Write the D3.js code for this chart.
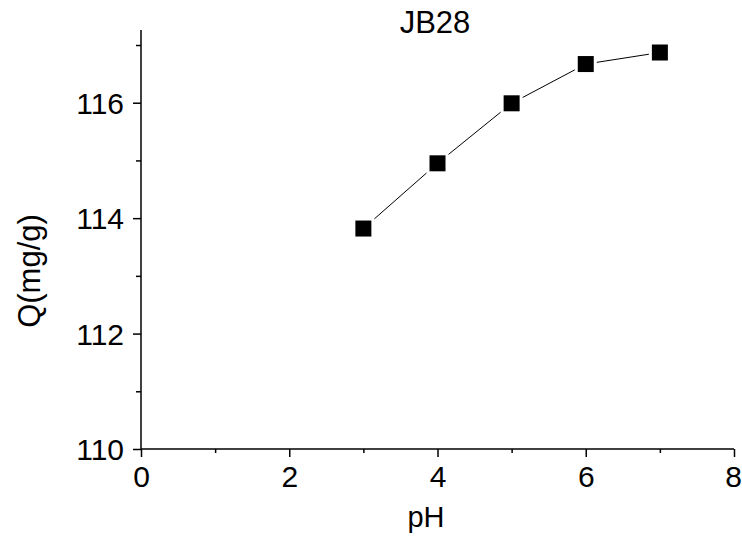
<!DOCTYPE html>
<html>
<head>
<meta charset="utf-8">
<script src="https://d3js.org/d3.v7.min.js"></script>
<style>
  body { margin: 0; background: #fff; }
  text { font-family: Arial, "Liberation Sans", sans-serif; fill: #000; }
</style>
</head>
<body>
<svg width="742" height="537"></svg>
<script>
const width = 742, height = 537;
const svg = d3.select("svg");

// data
const phValues = [3, 4, 5, 6, 7];
const qValues = [113.82, 114.95, 115.99, 116.67, 116.87];
const xTicks = [0, 2, 4, 6, 8];
const yTicks = [110, 112, 114, 116];

const margin = { left: 141, right: 8, top: 30, bottom: 88 };

const x = d3.scaleLinear().domain([0, 8]).range([margin.left, width - margin.right]);
const y = d3.scaleLinear().domain([110, 117.26]).range([height - margin.bottom, margin.top]);

// x axis with minor ticks
const xAxis = svg.append("g").attr("transform", `translate(0,${y(110)})`);
xAxis.call(d3.axisBottom(x).tickValues(d3.range(0, 8.01, 1)).tickSize(4).tickFormat(""));
xAxis.call(g => g.selectAll(".tick").filter(d => d % 2 === 0).select("line").attr("y2", 8));
xAxis.call(g => g.select(".domain").attr("d", `M${x(0)},0H${x(8)}`));
xAxis.selectAll(".tick")
  .filter(d => xTicks.includes(d))
  .append("text")
  .attr("y", 38)
  .attr("dx", d => d === 8 ? -1 : 0)
  .attr("text-anchor", "middle")
  .style("font-size", "30px")
  .text(d => d);

// y axis with minor ticks
const yAxis = svg.append("g").attr("transform", `translate(${x(0)},0)`);
yAxis.call(d3.axisLeft(y).tickValues(d3.range(110, 117.01, 1)).tickSize(5).tickFormat(""));
yAxis.call(g => g.selectAll(".tick").filter(d => d % 2 === 0).select("line").attr("x2", -8));
yAxis.call(g => g.select(".domain").attr("d", `M0,${y(110)}V${y(117.26)}`));
yAxis.selectAll(".tick")
  .filter(d => yTicks.includes(d))
  .append("text")
  .attr("x", -17)
  .attr("dy", "0.36em")
  .attr("text-anchor", "end")
  .style("font-size", "30px")
  .text(d => d);

svg.selectAll(".domain, .tick line").attr("stroke", "#000").attr("stroke-width", 1.5);

// titles
svg.append("text")
  .attr("x", 435).attr("y", 33)
  .attr("text-anchor", "middle")
  .style("font-size", "31px")
  .text("JB28");

svg.append("text")
  .attr("x", 426).attr("y", 527)
  .attr("text-anchor", "middle")
  .style("font-size", "29px")
  .text("pH");

svg.append("text")
  .attr("transform", "translate(40,271) rotate(-90)")
  .attr("text-anchor", "middle")
  .style("font-size", "31px")
  .text("Q(mg/g)");

const pts = phValues.map((p, i) => [p, qValues[i]]);

// connecting line
svg.append("path")
  .datum(pts)
  .attr("fill", "none")
  .attr("stroke", "#000")
  .attr("stroke-width", 1)
  .attr("d", d3.line().x(d => x(d[0])).y(d => y(d[1])));

// white halo so the line stops short of the markers
svg.selectAll("rect.halo")
  .data(pts)
  .enter().append("rect")
  .attr("class", "halo")
  .attr("x", d => x(d[0]) - 11)
  .attr("y", d => y(d[1]) - 11)
  .attr("width", 22).attr("height", 22)
  .attr("fill", "#fff");

svg.selectAll("rect.marker")
  .data(pts)
  .enter().append("rect")
  .attr("class", "marker")
  .attr("x", d => x(d[0]) - 8)
  .attr("y", d => y(d[1]) - 8)
  .attr("width", 16).attr("height", 16)
  .attr("fill", "#000");
</script>
</body>
</html>
